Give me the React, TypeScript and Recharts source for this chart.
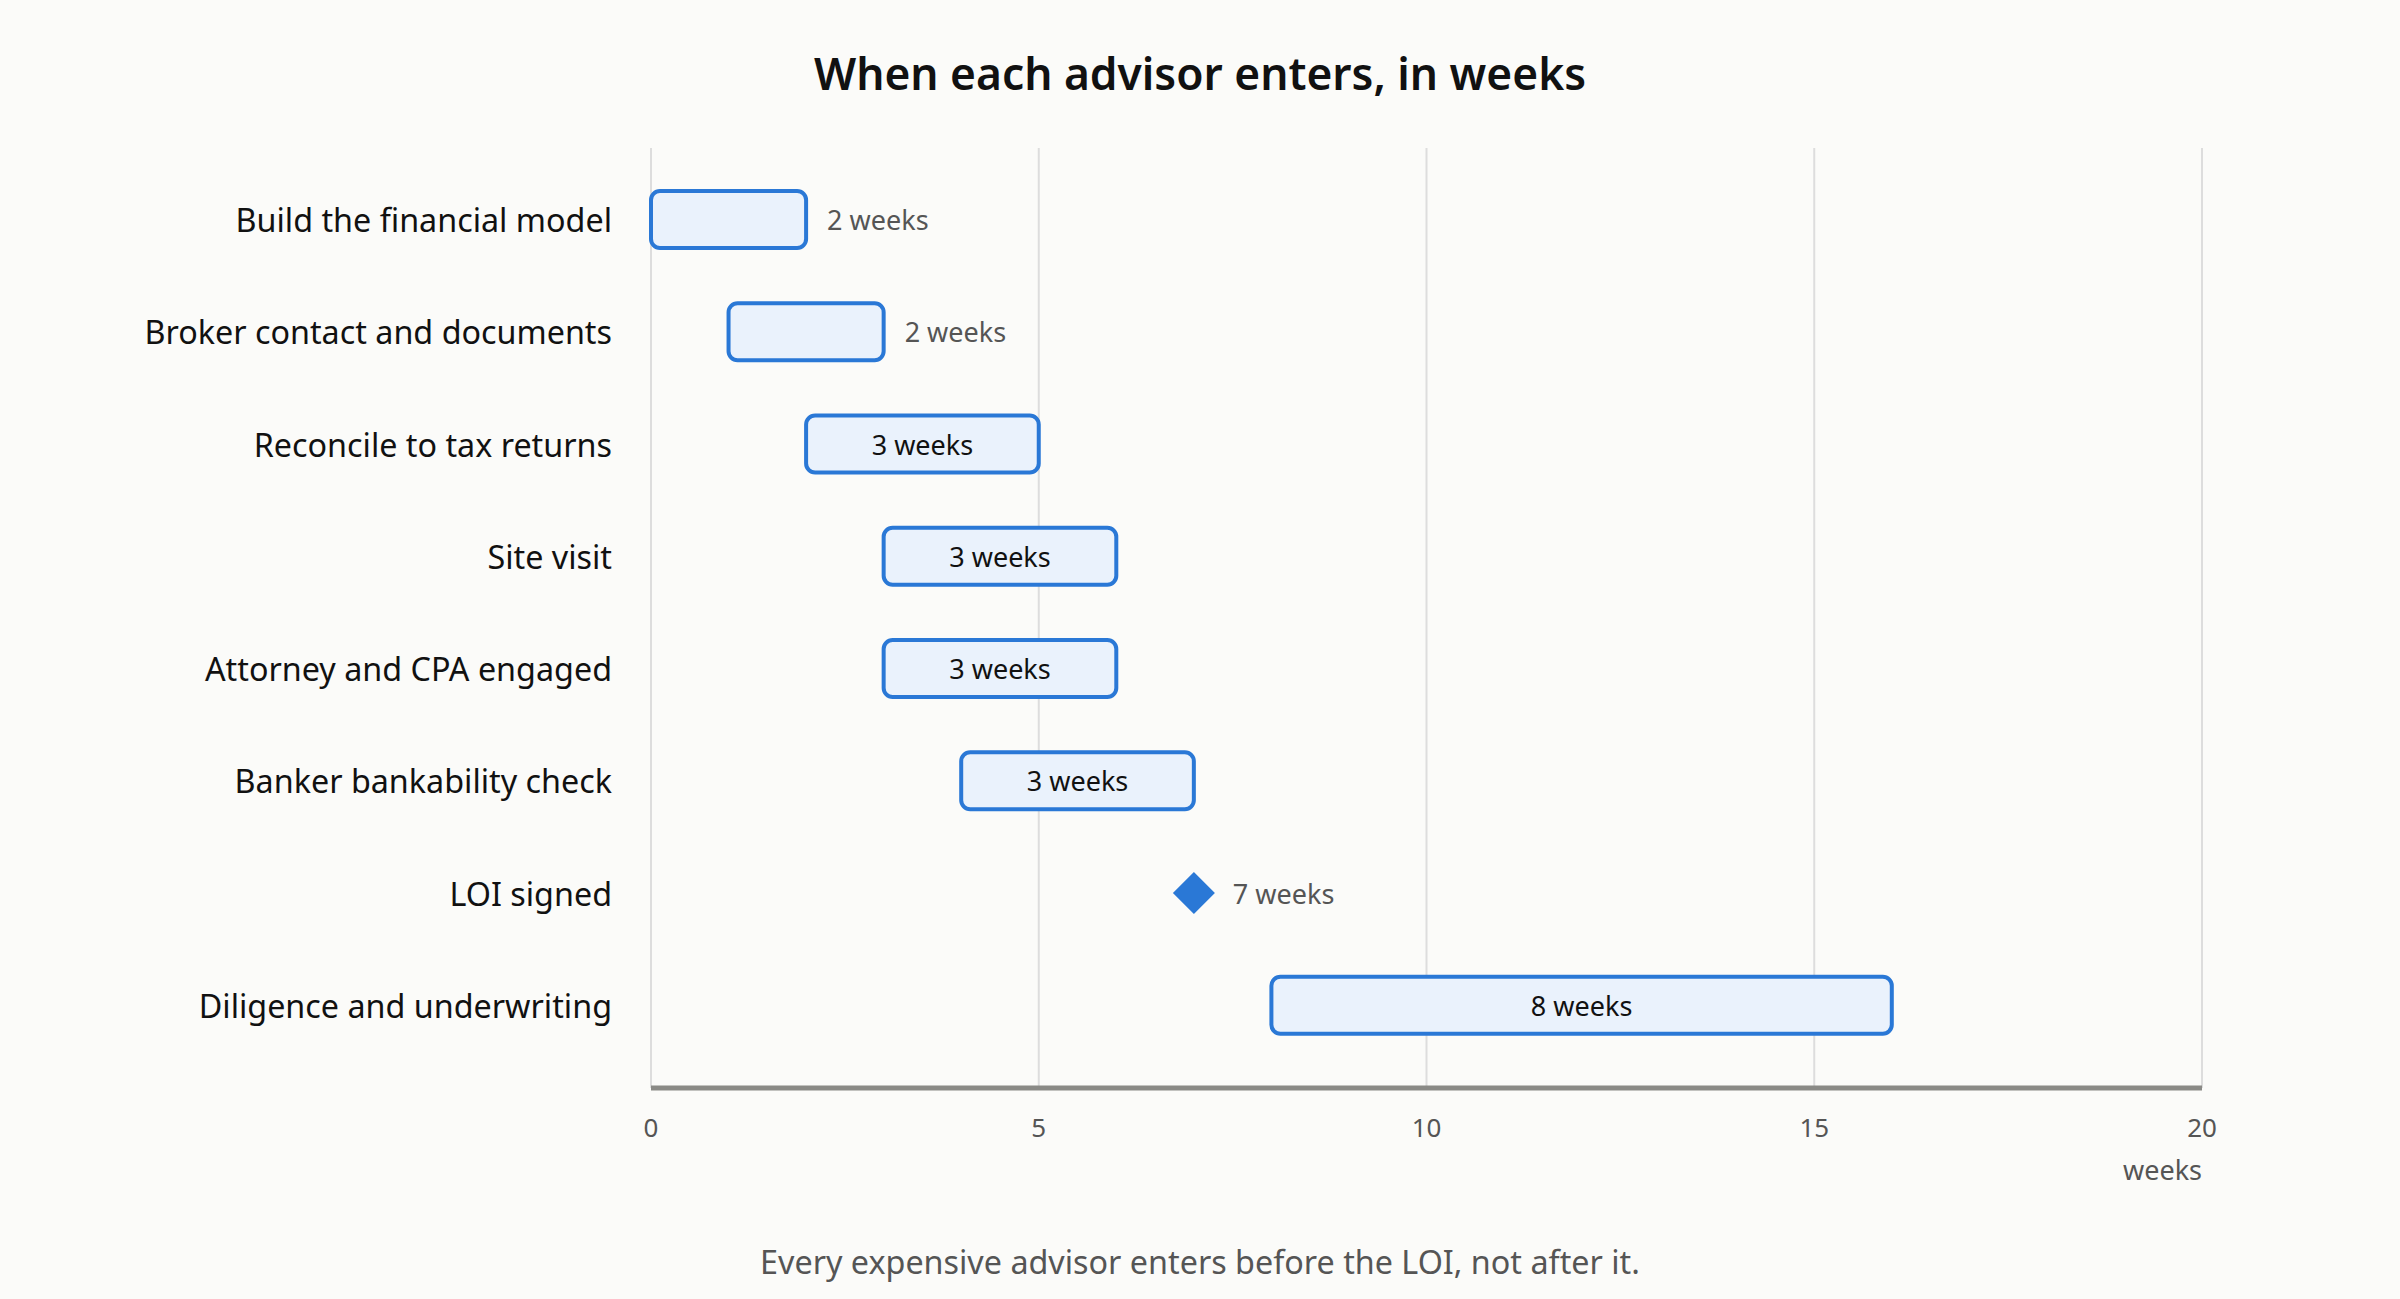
import React from 'react';
import { ComposedChart, Bar, XAxis, YAxis, CartesianGrid } from 'recharts';

const tasks = [
  'Build the financial model',
  'Broker contact and documents',
  'Reconcile to tax returns',
  'Site visit',
  'Attorney and CPA engaged',
  'Banker bankability check',
  'LOI signed',
  'Diligence and underwriting',
];
const startWeeks = [0, 1, 2, 3, 3, 4, 7, 8];
const durationWeeks = [2, 2, 3, 3, 3, 3, 0, 8];
const milestoneFlags = [false, false, false, false, false, false, true, false];
const xTicks = [0, 5, 10, 15, 20];

const data = tasks.map((t, i) => ({
  task: t,
  start: startWeeks[i],
  dur: durationWeeks[i],
  milestone: milestoneFlags[i],
  endWeek: startWeeks[i] + durationWeeks[i],
}));

const FONT = '"Noto Sans", "Open Sans", sans-serif';
const BLUE = '#2A78D6';
const FILL = '#EAF2FC';
const BG = '#FBFBF9';

const TaskShape = (props: any) => {
  const { x, y, width, height, payload } = props;
  const cy = y + height / 2;
  if (payload.milestone) {
    const r = 21;
    const pts = `${x},${cy - r} ${x + r},${cy} ${x},${cy + r} ${x - r},${cy}`;
    return (
      <g>
        <polygon points={pts} fill={BLUE} />
        <text x={x + 39} y={cy} dominantBaseline="central" fontFamily={FONT} fontSize={27} fill="#555">
          {`${payload.endWeek} weeks`}
        </text>
      </g>
    );
  }
  const inside = payload.dur >= 3;
  return (
    <g>
      <rect x={x} y={y} width={width} height={height} rx={9} ry={9} fill={FILL} stroke={BLUE} strokeWidth={4} />
      {inside ? (
        <text x={x + width / 2} y={cy} textAnchor="middle" dominantBaseline="central" fontFamily={FONT} fontSize={27} fill="#111">
          {`${payload.dur} weeks`}
        </text>
      ) : (
        <text x={x + width + 21} y={cy} dominantBaseline="central" fontFamily={FONT} fontSize={27} fill="#555">
          {`${payload.dur} weeks`}
        </text>
      )}
    </g>
  );
};

const YTick = (props: any) => {
  const { y, payload } = props;
  return (
    <text x={612} y={y} textAnchor="end" dominantBaseline="central" fontFamily={FONT} fontSize={32.3} fill="#111">
      {payload.value}
    </text>
  );
};

const XTick = (props: any) => {
  const { x, payload } = props;
  return (
    <text x={x} y={1127} textAnchor="middle" dominantBaseline="central" fontFamily={FONT} fontSize={26} fill="#555">
      {payload.value}
    </text>
  );
};

export default function App() {
  return (
    <div style={{ position: 'absolute', left: 0, top: 0, width: 2400, height: 1299, background: BG, fontFamily: FONT }}>
      <div style={{ position: 'absolute', left: 0, top: 73, width: 2400, textAlign: 'center', transform: 'translateY(-50%)', fontSize: 44.3, fontWeight: 600, color: '#111' }}>
        When each advisor enters, in weeks
      </div>
      <ComposedChart
        width={2400}
        height={1299}
        data={data}
        layout="vertical"
        margin={{ top: 148, right: 198, bottom: 151, left: 0 }}
      >
        <CartesianGrid horizontal={false} vertical={true} stroke="#DDDDDD" strokeWidth={2} />
        <XAxis
          type="number"
          domain={[0, 20]}
          ticks={xTicks}
          axisLine={{ stroke: '#8A8A86', strokeWidth: 5 }}
          tickLine={false}
          tick={<XTick />}
          height={60}
        />
        <YAxis
          type="category"
          dataKey="task"
          width={651}
          axisLine={false}
          tickLine={false}
          tick={<YTick />}
          padding={{ top: 15, bottom: 27 }}
          interval={0}
        />
        <Bar dataKey="start" stackId="a" fill="transparent" isAnimationActive={false} barSize={57} />
        <Bar dataKey="dur" stackId="a" shape={<TaskShape />} isAnimationActive={false} barSize={57} />
      </ComposedChart>
      <div style={{ position: 'absolute', left: 0, top: 1169, width: 2202, textAlign: 'right', transform: 'translateY(-50%)', fontSize: 27, color: '#555' }}>
        weeks
      </div>
      <div style={{ position: 'absolute', left: 0, top: 1261, width: 2400, textAlign: 'center', transform: 'translateY(-50%)', fontSize: 32.3, color: '#555' }}>
        Every expensive advisor enters before the LOI, not after it.
      </div>
    </div>
  );
}
